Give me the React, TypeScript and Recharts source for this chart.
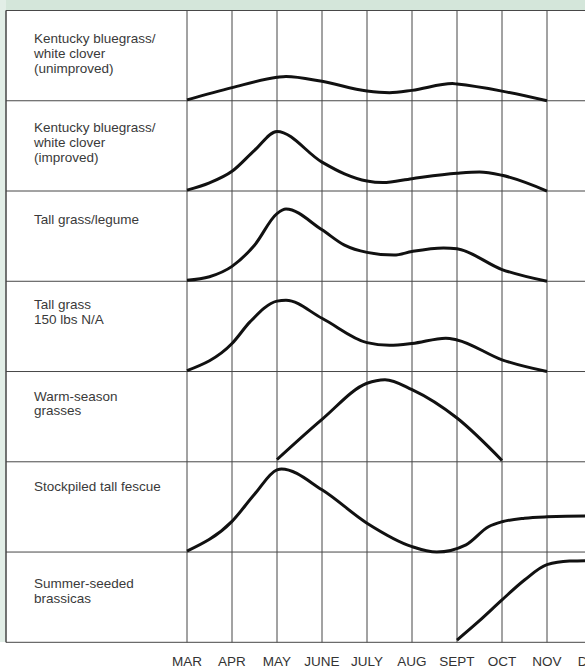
import { LineChart, Line, XAxis, YAxis, CartesianGrid, ReferenceLine } from "recharts";

const MONTHS = ["MAR", "APR", "MAY", "JUNE", "JULY", "AUG", "SEPT", "OCT", "NOV", "DEC"];

const ROW_LABELS = [
  ["Kentucky bluegrass/", "white clover", "(unimproved)"],
  ["Kentucky bluegrass/", "white clover", "(improved)"],
  ["Tall grass/legume"],
  ["Tall grass", "150 lbs N/A"],
  ["Warm-season", "grasses"],
  ["Stockpiled tall fescue"],
  ["Summer-seeded", "brassicas"],
];

// [month index (0 = MAR), growth within the row (0 = bottom, 1 = top)]
const kbUnimproved = [
  [0, 0.01], [1, 0.145], [2, 0.26], [2.2, 0.27], [3, 0.215], [4, 0.107],
  [4.5, 0.09], [5, 0.115], [5.9, 0.19], [6, 0.185], [7, 0.107], [8, 0],
];
const kbImproved = [
  [0, 0.01], [0.5, 0.09], [1, 0.218], [1.5, 0.45], [2, 0.66], [3, 0.32], [3.5, 0.19],
  [4, 0.11], [4.35, 0.093], [5, 0.137], [6, 0.196], [6.5, 0.21], [7, 0.174], [8, 0],
];
const tallGrassLegume = [
  [0, 0.01], [0.5, 0.05], [1, 0.165], [1.5, 0.4], [2, 0.75], [2.2, 0.8], [3, 0.57],
  [3.5, 0.4], [4, 0.32], [4.6, 0.29], [5, 0.33], [5.7, 0.37], [6, 0.36], [7, 0.13], [8, 0],
];
const tallGrassN = [
  [0, 0.01], [1, 0.31], [1.4, 0.55], [2, 0.78], [2.2, 0.79], [3, 0.59], [4, 0.32],
  [4.5, 0.29], [5, 0.31], [5.75, 0.37], [6, 0.35], [7, 0.13], [8, 0],
];
const warmSeason = [
  [2, 0.025], [3, 0.47], [4, 0.87], [4.4, 0.91], [5, 0.8], [6, 0.485], [7, 0.015],
];
const stockpiledFescue = [
  [0, 0.01], [1, 0.34], [1.5, 0.64], [2, 0.91], [2.1, 0.92], [3, 0.69], [4, 0.32],
  [5, 0.06], [5.55, 0], [6.2, 0.08], [6.7, 0.28], [7, 0.335], [7.5, 0.375], [8, 0.39],
  [9, 0.4], [10, 0.4],
];
const brassicas = [
  [6, 0.025], [6.5, 0.24], [7, 0.47], [7.5, 0.69], [8, 0.86], [8.5, 0.9], [9, 0.905], [10, 0.905],
];

const SERIES = [kbUnimproved, kbImproved, tallGrassLegume, tallGrassN, warmSeason, stockpiledFescue, brassicas];

// label baseline offset from the top of each row
const LABEL_DY = [32.6, 31.4, 32.6, 28, 29, 29.4, 36];

const LEFT = -181 / 45; // label column, in month units
const ROWS = SERIES.length;

function RowLabel({ y, payload }: any) {
  const row = ROWS - payload.value;
  if (row < 0 || row >= ROWS) return <g />;
  return (
    <text x={34} y={y + LABEL_DY[row]} fill="#3a3a3a" fontSize={13.5}>
      {ROW_LABELS[row].map((line, i) => (
        <tspan key={i} x={34} dy={i === 0 ? 0 : 14.8}>
          {line}
        </tspan>
      ))}
    </text>
  );
}

export default function App() {
  return (
    <div
      style={{
        position: "absolute",
        left: 0,
        top: 0,
        width: 585,
        height: 669,
        overflow: "hidden",
        background: "#fff",
        fontFamily: "'Liberation Sans', Arial, sans-serif",
      }}
    >
      <div style={{ position: "absolute", left: 0, top: 0, width: 585, height: 11, background: "#d4e6da" }} />
      <div style={{ position: "absolute", left: 0, top: 0, width: 6, height: 642, background: "#e2eee7" }} />
      <div style={{ position: "absolute", left: 0, top: 0 }}>
        <LineChart width={640} height={669} margin={{ top: 10.5, right: 3, left: 0, bottom: 0 }}>
          <CartesianGrid stroke="#474747" fill="#fff" />
          <XAxis
            dataKey="x"
            type="number"
            domain={[LEFT, 10]}
            ticks={[0, 1, 2, 3, 4, 5, 6, 7, 8, 9]}
            tickFormatter={(v: number) => MONTHS[v]}
            interval={0}
            axisLine={false}
            tickLine={false}
            tickMargin={8}
            height={26.7}
            tick={{ fill: "#333", fontSize: 13.5 }}
            allowDataOverflow
          />
          <YAxis
            type="number"
            domain={[0, ROWS]}
            ticks={[0, 1, 2, 3, 4, 5, 6, 7]}
            width={6}
            axisLine={false}
            tickLine={false}
            tick={<RowLabel />}
            interval={0}
          />
          <ReferenceLine x={LEFT} stroke="#474747" />
          {SERIES.map((s, row) => (
            <Line
              key={row}
              data={s.map(([x, f]) => ({ x, y: ROWS - 1 - row + f }))}
              dataKey="y"
              type="monotone"
              stroke="#111"
              strokeWidth={3}
              dot={false}
              activeDot={false}
              isAnimationActive={false}
            />
          ))}
        </LineChart>
      </div>
    </div>
  );
}
